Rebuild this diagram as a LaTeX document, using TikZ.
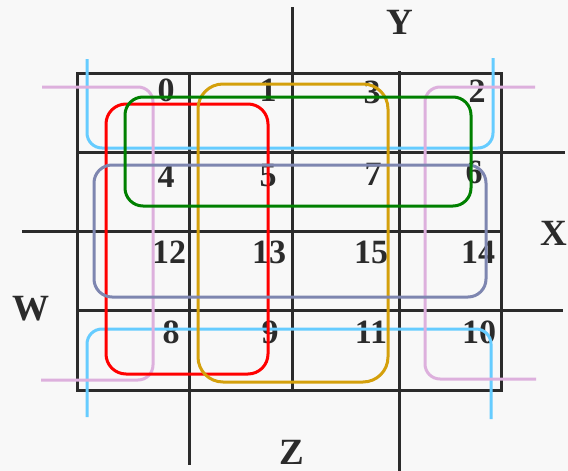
\documentclass[tikz,border=0pt]{standalone}
\usepackage{fontspec}
\setmainfont{Liberation Serif}
\usetikzlibrary{positioning}
\definecolor{kmGrid}{HTML}{2B2B2B}
\definecolor{kmBack}{HTML}{F8F8F8}
\definecolor{kmBlue}{HTML}{66CCFF}
\definecolor{kmPink}{HTML}{DDB0DD}
\definecolor{kmRed}{HTML}{FF0000}
\definecolor{kmGold}{HTML}{D4A00C}
\definecolor{kmGreen}{HTML}{008000}
\definecolor{kmSlate}{HTML}{7E86B0}
\tikzset{
  gridline/.style={line width=3pt, draw=kmGrid},
  groupline/.style={line width=3pt},
  cellnum/.style={font=\fontsize{34}{34}\selectfont\bfseries, text=kmGrid, inner sep=0pt},
  varlabel/.style={font=\fontsize{37}{37}\selectfont\bfseries, text=kmGrid, inner sep=0pt}
}

\begin{document}
\begin{tikzpicture}[x=1pt, y=-1pt]
  \fill[kmBack] (0,0) rectangle (568,471);
  \useasboundingbox (0,0) rectangle (568,471);
  % grid
  \draw[gridline] (77,73) rectangle (501,390);
  \draw[gridline] (292,7) -- (292,390);
  \draw[gridline] (189,73) -- (189,465);
  \draw[gridline] (399,71) -- (399,471);
  \draw[gridline] (77,152) -- (565,152);
  \draw[gridline] (22,231) -- (501,231);
  \draw[gridline] (77,310) -- (563,310);
  % cell numbers
  \foreach \px/\py/\num in {166/90/0, 268/90/1, 372/92/3, 477/91/2,
                            166/176/4, 268/176/5, 373/174/7, 474/172/6,
                            169/252/12, 269/252/13, 371/252/15, 478/252/14,
                            171/332/8, 270/332/9, 371/332/11, 479/332/10}
    \node[cellnum] (c\num) at (\px,\py) {\num};
  % variables
  \node[varlabel] (varY) at (400,22) {Y};
  \node[varlabel] (varX) at (554,233) {X};
  \node[varlabel] (varW) at (31,309) {W};
  \node[varlabel] (varZ) at (292,452) {Z};
  % groups
  \draw[groupline, kmBlue, rounded corners=15pt] (87,59) -- (87,148) -- (493,148) -- (493,58);
  \draw[groupline, kmBlue, rounded corners=15pt] (87,417) -- (87,329) -- (491,329) -- (491,419);
  \draw[groupline, kmPink, rounded corners=15pt] (42,87) -- (153,87) -- (153,380) -- (41,380);
  \draw[groupline, kmPink, rounded corners=15pt] (535,87) -- (425,87) -- (425,379) -- (536,379);
  \draw[groupline, kmRed, rounded corners=20pt] (106,104) rectangle (268,374);
  \draw[groupline, kmGold, rounded corners=25pt] (198,84) rectangle (388,382);
  \draw[groupline, kmSlate, rounded corners=18pt] (94,165) rectangle (486,297);
  \draw[groupline, kmGreen, rounded corners=18pt] (125,97) rectangle (471,206);
\end{tikzpicture}
\end{document}
